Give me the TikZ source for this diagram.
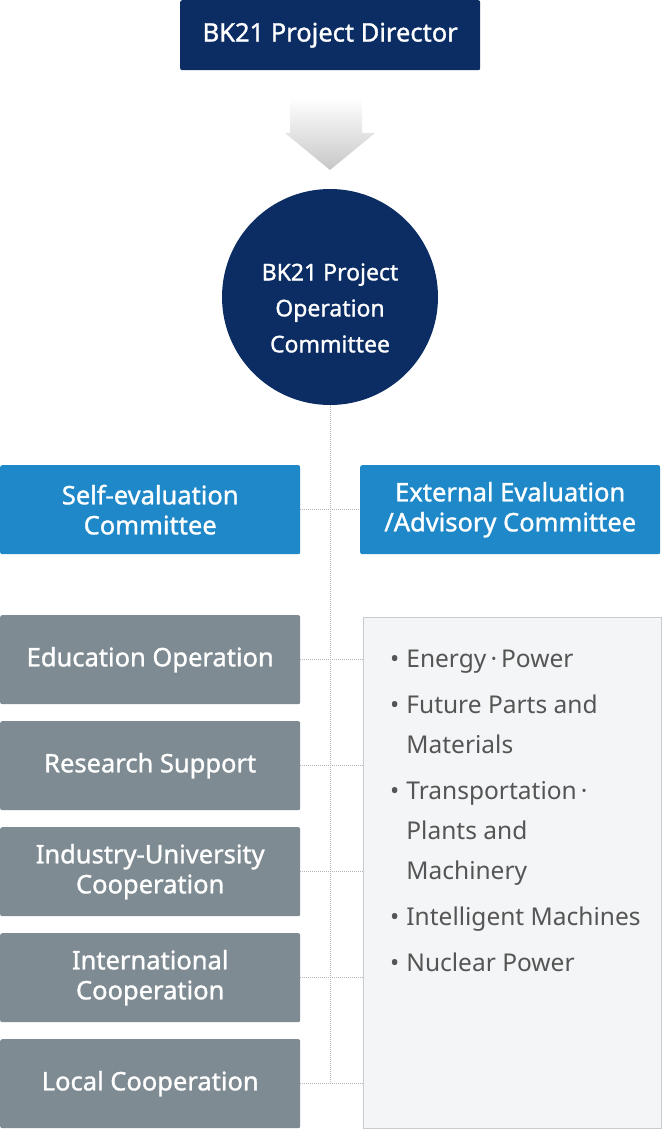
\documentclass[tikz,border=0pt]{standalone}
\usepackage{fontspec}
\setmainfont{Noto Sans}
\newfontfamily\med[FakeBold=1.2]{Noto Sans}
\usetikzlibrary{shapes.geometric}
\definecolor{navy}{HTML}{0B2D64}
\definecolor{sky}{HTML}{1E88C9}
\definecolor{slate}{HTML}{7E8B92}
\definecolor{listbg}{HTML}{F4F5F6}
\definecolor{listbd}{HTML}{C9CCCE}
\definecolor{txt}{HTML}{555555}
\definecolor{dots}{HTML}{B5B5B5}
\begin{document}
\begin{tikzpicture}[x=1pt,y=-1pt,
  box/.style={rounded corners=2pt,minimum width=300pt,minimum height=89pt,inner sep=0pt,text=white,align=center,font=\med\fontsize{25.5}{30}\selectfont},
  gbox/.style={box,fill=slate},
  bbox/.style={box,fill=sky},
  con/.style={dots,line width=1pt,densely dotted}]
\useasboundingbox (0,0) rectangle (662,1129);
\node[box,fill=navy,minimum width=300pt,minimum height=70pt,anchor=north west] (dir) at (180,0) {BK21 Project Director};
\shade[top color=white,bottom color=black!22] (290,98) -- (362,98) -- (362,133) -- (375,133) -- (330,170) -- (285,133) -- (290,133) -- cycle;
\node[circle,fill=navy,minimum size=216pt,inner sep=0pt] (oc) at (330,297) {};
\node[text=white,align=center,font=\med\fontsize{23}{36}\selectfont] (oct) at (330,308) {BK21 Project\\Operation\\Committee};
\coordinate (bot) at (330,1083);
\draw[con] (oc.south) -- (bot);
\node[bbox,anchor=north west] (se) at (0,465) {Self-evaluation\\Committee};
\node[bbox,anchor=north west] (ex) at (360,465) {External Evaluation\\/Advisory Committee};
\draw[con] (se.east) -- (ex.west);
\node[gbox,anchor=north west] (g1) at (0,615) {Education Operation};
\node[gbox,anchor=north west] (g2) at (0,721) {Research Support};
\node[gbox,anchor=north west] (g3) at (0,827) {Industry-University\\Cooperation};
\node[gbox,anchor=north west] (g4) at (0,933) {International\\Cooperation};
\node[gbox,anchor=north west] (g5) at (0,1039) {Local Cooperation};
\node[draw=listbd,fill=listbg,line width=1pt,minimum width=298pt,minimum height=511pt,anchor=north west,inner sep=0pt] (lst) at (362.5,616.5) {};
\foreach \g in {g1,g2,g3,g4,g5}{\draw[con] (\g.east) -- (\g.east -| lst.west);}
\node[anchor=north west,text=txt,align=left,font=\fontsize{24.5}{40}\selectfont,inner sep=0pt] (items) at (390,650) {%
\textbullet\hspace{7pt}Energy\,·\,Power\\[6pt]
\textbullet\hspace{7pt}Future Parts and\\
\hphantom{\textbullet\hspace{7pt}}Materials\\[6pt]
\textbullet\hspace{7pt}Transportation\,·\\
\hphantom{\textbullet\hspace{7pt}}Plants and\\
\hphantom{\textbullet\hspace{7pt}}Machinery\\[6pt]
\textbullet\hspace{7pt}Intelligent Machines\\[6pt]
\textbullet\hspace{7pt}Nuclear Power};
\end{tikzpicture}
\end{document}
